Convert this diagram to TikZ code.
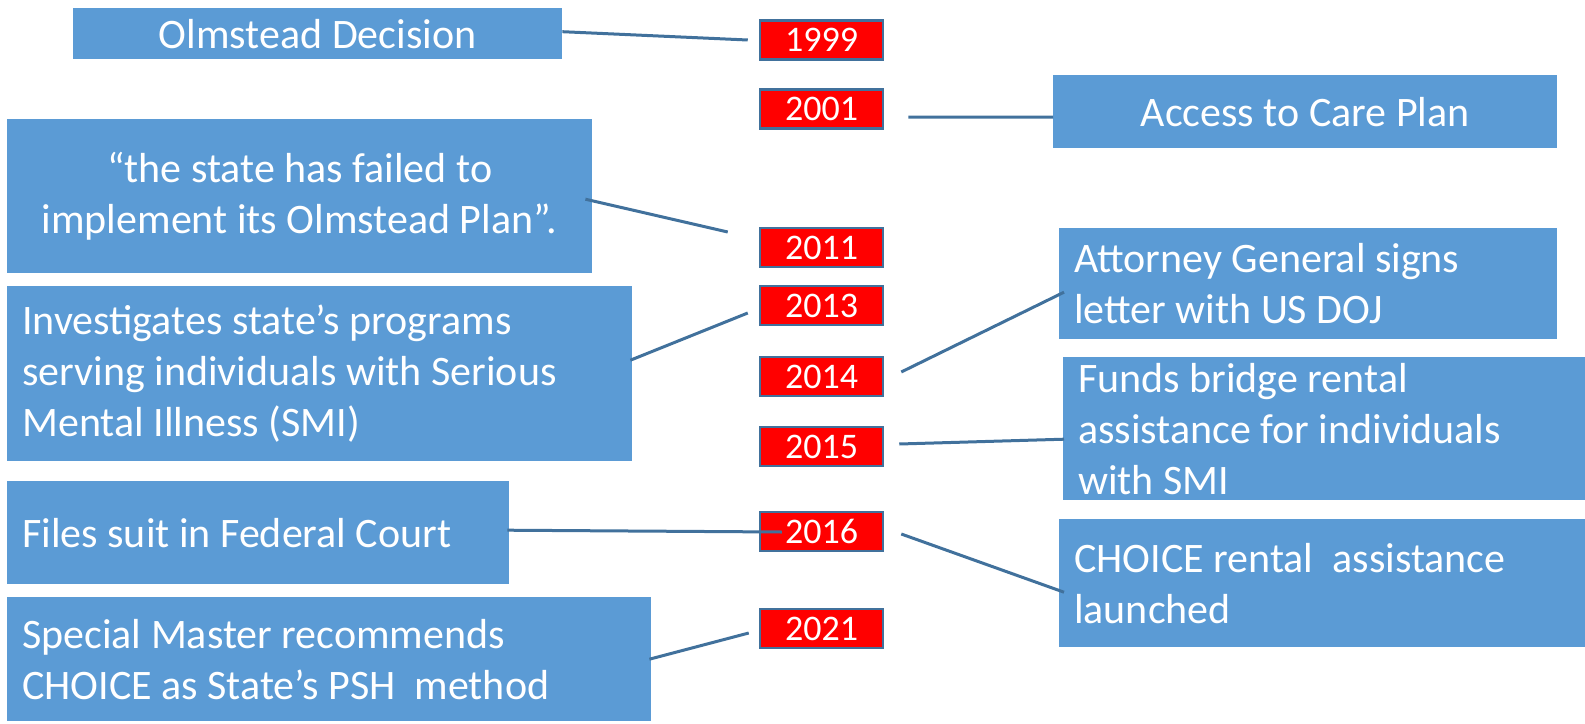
\documentclass[tikz,border=0pt]{standalone}
\usepackage{fontspec}
\setmainfont{Carlito}
\usepackage{xcolor}
\usepackage{tikz}
\usetikzlibrary{positioning,calc}

\definecolor{evtblue}{HTML}{5B9BD5}
\definecolor{linkblue}{HTML}{41719C}

\begin{document}
\begin{tikzpicture}[x=1pt, y=-1pt,
  evt/.style={fill=evtblue, text=white, anchor=north west, inner xsep=15pt, inner ysep=0pt,
    font=\fontsize{42}{51}\selectfont},
  yr/.style={fill=red, draw=linkblue, line width=2.5pt, text=white, minimum width=123pt,
    minimum height=39pt, inner sep=0pt, font=\fontsize{36}{40}\selectfont},
  link/.style={draw=linkblue, line width=3pt}]
  \useasboundingbox (0,0) rectangle (1585,723);

  % left and right event boxes
  \node[evt, minimum width=489pt, minimum height=51pt] (olm) at (73,8) {Olmstead Decision};
  \node[evt, minimum width=504pt, minimum height=73pt] (acc) at (1053,75) {Access to Care Plan};
  \node[evt, minimum width=585pt, minimum height=154pt, align=center] (state) at (7,119)
    {“the state has failed to\\implement its Olmstead Plan”.};
  \node[evt, text width=595pt, minimum height=175pt, align=flush left] (inv) at (7,286)
    {Investigates state’s programs\\serving individuals with Serious\\Mental Illness (SMI)};
  \node[evt, text width=468pt, minimum height=111pt, align=flush left] (att) at (1059,228)
    {Attorney General signs\\letter with US DOJ};
  \node[evt, text width=492pt, minimum height=143pt, align=flush left] (fund) at (1063,357)
    {Funds bridge rental\\assistance for individuals\\with SMI};
  \node[evt, text width=472pt, minimum height=103pt, align=flush left] (file) at (7,481)
    {Files suit in Federal Court};
  \node[evt, text width=496pt, minimum height=128pt, align=flush left] (cho) at (1059,519)
    {CHOICE rental\ \ assistance\\launched};
  \node[evt, text width=614pt, minimum height=124pt, align=flush left] (spec) at (7,597)
    {Special Master recommends\\CHOICE as State’s PSH\ \ method};

  % years
  \node[yr] (y1999) at (821.5,40) {1999};
  \node[yr] (y2001) at (821.5,109) {2001};
  \node[yr] (y2011) at (821.5,247.5) {2011};
  \node[yr] (y2013) at (821.5,305.5) {2013};
  \node[yr] (y2014) at (821.5,376.5) {2014};
  \node[yr] (y2015) at (821.5,446.5) {2015};
  \node[yr] (y2016) at (821.5,531.5) {2016};
  \node[yr] (y2021) at (821.5,628.5) {2021};

  % connectors
  \draw[link] ([shift={(0,-2)}]olm.east) -- ([shift={(-11,0)}]y1999.west);
  \draw[link] ([shift={(24,8)}]y2001.east) -- ([shift={(0,5.5)}]acc.west);
  \draw[link] ([shift={(-7,3)}]state.east) -- ([shift={(-31,-15.5)}]y2011.west);
  \draw[link] ([shift={(-2,-13.5)}]inv.east) -- ([shift={(-11,7.5)}]y2013.west);
  \draw[link] ([shift={(17,-4.5)}]y2014.east) -- ([shift={(5,8.5)}]att.west);
  \draw[link] ([shift={(15,-2.5)}]y2015.east) -- ([shift={(1,10.5)}]fund.west);
  \draw[link] ([shift={(-2,-2.5)}]file.east) -- ([shift={(23,0.5)}]y2016.west);
  \draw[link] ([shift={(17,2.5)}]y2016.east) -- ([shift={(5,9)}]cho.west);
  \draw[link] ([shift={(-2,0)}]spec.east) -- ([shift={(-10,4.5)}]y2021.west);
\end{tikzpicture}
\end{document}
